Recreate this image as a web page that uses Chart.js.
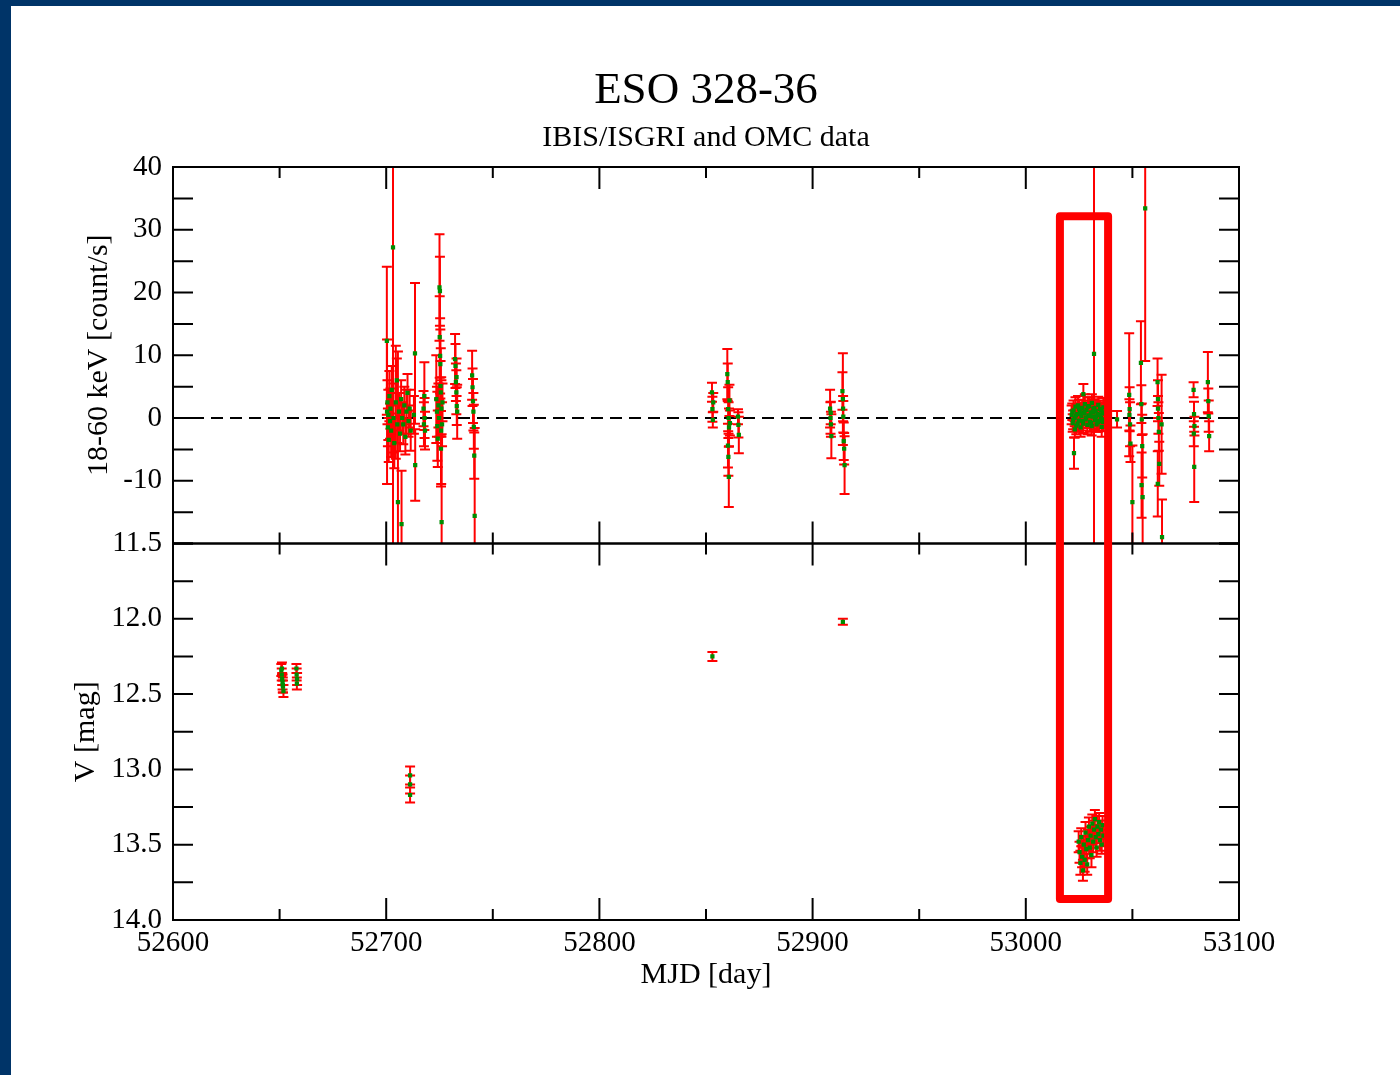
<!DOCTYPE html>
<html>
<head>
<meta charset="utf-8">
<title>ESO 328-36</title>
<script src="https://cdn.jsdelivr.net/npm/chart.js@4.4.1/dist/chart.umd.min.js"></script>
<style>
  html, body { margin: 0; padding: 0; background: #fff; }
  #wrap { position: relative; width: 1400px; height: 1075px; overflow: hidden; }
  .bar-top { position: absolute; left: 0; top: 0; width: 1400px; height: 6px; background: #003468; }
  .bar-left { position: absolute; left: 0; top: 0; width: 11px; height: 1075px; background: #003468; }
  #plot { position: absolute; left: 0; top: 0; }
</style>
</head>
<body>
<div id="wrap">
  <div class="bar-top"></div>
  <div class="bar-left"></div>
  <canvas id="plot" width="1400" height="1075"></canvas>
</div>
<script>
// IBIS/ISGRI 18-60 keV light curve
const isgriMjd = [
  52700.3, 52700.4, 52700.6, 52700.8, 52701.0, 52701.2, 52701.5, 52701.8, 52702.0, 52702.3,
  52702.6, 52703.2, 52703.4, 52703.8, 52704.5, 52705.0, 52705.2, 52705.5, 52707.2, 52706.0,
  52706.5, 52707.0, 52707.5, 52708.0, 52708.5, 52709.0, 52709.5, 52710.0, 52710.5, 52711.0,
  52711.5, 52713.5, 52713.6, 52713.0, 52717.5, 52717.7, 52717.9, 52718.0, 52718.2,
  52723.5, 52723.8, 52724.0, 52724.2, 52724.5, 52724.8, 52725.0, 52725.2, 52725.1, 52725.3,
  52725.4, 52725.5, 52725.6, 52725.7, 52725.8, 52726.0, 52725.9, 52726.2, 52726.4,
  52732.3, 52732.5, 52732.7, 52732.9, 52733.1, 52733.3, 52733.0,
  52740.3, 52740.5, 52740.7, 52740.9, 52741.1, 52741.3, 52741.5,
  52852.8, 52853.0, 52853.2, 52853.4,
  52860.0, 52860.2, 52860.4, 52860.6, 52860.8, 52861.0, 52860.3, 52860.5, 52860.7, 52861.2,
  52865.0, 52865.2, 52865.4,
  52908.2, 52908.4, 52908.6, 52908.8, 52908.5,
  52914.0, 52914.2, 52914.4, 52914.6, 52914.8, 52915.0, 52914.3,
  53022.6, 53027.0, 53032.0,
  53021.5, 53022.0, 53022.4, 53022.9, 53023.3, 53023.7, 53024.1, 53024.5, 53024.9, 53025.3,
  53025.7, 53026.1, 53026.5, 53026.9, 53027.3, 53027.7, 53028.1, 53028.5, 53028.9, 53029.3,
  53029.7, 53030.1, 53030.5, 53030.9, 53031.3, 53031.7, 53032.4, 53032.8, 53033.2, 53033.6,
  53034.0, 53034.4, 53034.8, 53035.2, 53035.6, 53036.0, 53036.4, 53036.8, 53023.0, 53031.0,
  53021.8, 53022.2, 53023.5, 53024.3, 53025.0, 53025.9, 53026.7, 53027.5, 53028.3, 53029.1,
  53029.9, 53030.7, 53031.5, 53032.2, 53033.0, 53033.8, 53034.6, 53035.4, 53036.2, 53036.6,
  53042.8,
  53048.5, 53048.7, 53048.9, 53049.1, 53048.6, 53050.0,
  53054.0, 53054.2, 53054.4, 53054.6, 53054.3, 53054.8, 53056.0,
  53061.8, 53062.0, 53062.2, 53062.4, 53062.6, 53062.0, 53061.9, 53063.7, 53063.9,
  53078.7, 53078.9, 53079.1, 53078.8, 53079.0,
  53085.4, 53085.6, 53085.8, 53086.0
];
const isgriRate = [
  12.3, 1.0, 2.5, -1.5, 0.5, -3.5, 3.5, -0.5, 1.5, -2.0,
  4.5, 27.2, 0.0, -4.0, 2.5, 6.0, -1.0, -13.4, -16.9, 1.0,
  -2.5, 3.0, 0.0, -1.0, 2.0, -3.0, 1.0, 4.0, -0.5, 1.5,
  -2.0, 10.3, -7.5, 0.5, 1.5, -1.0, 3.5, 0.0, -2.0,
  3.0, 1.0, -1.3, -3.3, 2.0, 0.0, 20.8, 20.2, 12.9, 9.9,
  8.6, 5.1, 4.1, -4.9, -2.0, -16.6, 1.5, -1.0, 2.5,
  9.4, 8.3, 5.7, 4.1, 1.9, 1.0, 6.5,
  6.8, 4.9, 2.7, 1.0, -1.4, -6.0, -15.6,
  4.1, 1.4, -0.3, 2.5,
  7.0, 5.7, 1.4, 0.0, -1.5, 2.8, -4.4, -6.2, -9.4, -0.8,
  0.2, -1.1, -2.7,
  1.5, 0.0, -1.0, -2.9, 0.8,
  4.3, 3.0, 0.2, -3.7, -4.9, -7.5, 1.5,
  -5.6, 3.8, 10.2,
  0.5, -0.8, 1.2, 0.0, 1.8, -1.2, 0.6, 2.0, -0.4, 1.0,
  -1.5, 0.3, 1.6, -0.9, 0.8, 2.2, -0.2, 1.3, -1.1, 0.4,
  1.9, -0.6, 0.9, -1.3, 0.2, 1.5, -0.3, 1.1, -1.0, 0.6,
  2.1, -0.5, 1.4, 0.0, -1.4, 0.7, 1.7, -0.2, -1.8, 2.4,
  1.0, -0.3, 0.4, -0.9, 1.5, 0.7, -0.5, 1.0, 0.1, 1.8,
  0.3, -0.8, 0.9, 1.6, 0.2, -0.7, 0.5, 1.2, -0.6, 0.9,
  -0.2,
  3.7, 1.4, -1.0, -4.1, 0.5, -13.4,
  8.8, 2.2, -0.2, -4.5, -10.7, -12.6, 33.4,
  5.7, 3.0, 0.0, -2.2, -7.3, 1.5, -10.5, -1.0, -19.0,
  4.5, 0.6, -1.3, -2.5, -7.8,
  5.7, 2.7, 0.3, -2.9
];
const isgriErr = [
  11.8, 11.5, 3.5, 3.0, 4.0, 3.5, 4.0, 2.8, 3.2, 4.2,
  3.8, 50.0, 5.5, 4.0, 9.0, 3.5, 3.0, 24.0, 8.5, 3.0,
  2.8, 3.0, 2.5, 3.2, 3.0, 2.8, 3.5, 3.0, 2.5, 3.0,
  3.2, 11.2, 5.7, 3.0, 2.8, 3.5, 5.4, 3.2, 3.0,
  7.0, 4.0, 5.5, 4.5, 3.5, 3.0, 8.5, 5.5, 6.5, 6.0,
  5.5, 4.0, 7.0, 6.0, 8.5, 14.0, 4.5, 3.5, 3.0,
  4.0, 3.5, 3.0, 3.5, 3.0, 4.3, 3.0,
  3.9, 3.0, 3.5, 3.0, 3.5, 3.7, 14.0,
  1.5, 2.0, 1.2, 1.5,
  4.0, 3.0, 3.5, 2.5, 3.0, 2.5, 3.5, 3.0, 4.8, 2.0,
  1.2, 2.0, 2.9,
  3.0, 2.5, 2.0, 3.5, 1.8,
  3.0, 7.3, 2.5, 3.0, 2.5, 4.6, 2.0,
  2.5, 1.6, 45.0,
  1.5, 1.4, 1.6, 1.3, 1.5, 1.4, 1.2, 1.5, 1.6, 1.3,
  1.5, 1.4, 1.2, 1.5, 1.3, 1.6, 1.4, 1.2, 1.5, 1.3,
  1.4, 1.6, 1.2, 1.5, 1.4, 1.3, 1.5, 1.4, 1.2, 1.6,
  1.3, 1.5, 1.4, 1.2, 1.6, 1.3, 1.5, 1.4, 1.3, 1.4,
  1.3, 1.5, 1.4, 1.3, 1.4, 1.2, 1.5, 1.4, 1.3, 1.5,
  1.4, 1.3, 1.5, 1.4, 1.3, 1.5, 1.4, 1.3, 1.5, 1.4,
  1.3,
  9.8, 3.5, 3.5, 2.9, 2.5, 9.0,
  6.6, 3.0, 2.5, 5.0, 5.2, 10.0, 24.3,
  3.8, 3.0, 2.5, 3.0, 3.5, 2.0, 5.2, 7.9, 6.0,
  1.2, 2.0, 1.5, 2.0, 5.6,
  4.8, 2.0, 2.5, 2.4
];

// OMC V-band magnitudes
const omcMjd = [
  52650.8, 52651.0, 52651.2, 52651.4, 52651.6, 52651.8, 52651.1, 52651.5,
  52657.9, 52658.0, 52658.2, 52658.1,
  52711.2, 52711.2, 52711.2,
  52853.0, 52914.2,
  53024.8, 53025.2, 53025.6, 53026.0, 53026.4, 53026.8, 53027.2, 53027.6, 53028.0, 53028.4,
  53028.8, 53029.2, 53029.6, 53030.0, 53030.4, 53030.8, 53031.2, 53031.6, 53032.0, 53032.4,
  53032.8, 53033.2, 53033.6, 53034.0, 53034.4, 53034.8, 53035.2, 53035.6, 53036.0, 53036.4
];
const omcMag = [
  12.34, 12.37, 12.40, 12.42, 12.45, 12.48, 12.33, 12.44,
  12.33, 12.37, 12.40, 12.43,
  13.04, 13.10, 13.17,
  12.25, 12.02,
  13.48, 13.55, 13.62, 13.45, 13.58, 13.67, 13.50, 13.60, 13.42, 13.53,
  13.63, 13.47, 13.38, 13.52, 13.44, 13.57, 13.36, 13.48, 13.40, 13.33,
  13.45, 13.52, 13.38, 13.43, 13.35, 13.47, 13.40, 13.50, 13.37, 13.44
];
const omcErr = [
  0.04, 0.04, 0.04, 0.05, 0.04, 0.04, 0.04, 0.05,
  0.03, 0.04, 0.04, 0.04,
  0.06, 0.06, 0.05,
  0.03, 0.02,
  0.07, 0.07, 0.08, 0.06, 0.07, 0.07, 0.06, 0.08, 0.07, 0.06,
  0.07, 0.07, 0.06, 0.07, 0.06, 0.08, 0.06, 0.07, 0.06, 0.06,
  0.07, 0.06, 0.07, 0.06, 0.06, 0.07, 0.06, 0.06, 0.06, 0.07
];

// marked interval (MJD range, top in count/s, bottom in mag)
const markMjd = [53016.0, 53038.6];
const markTop = 32.15;
const markBottom = 13.86;

const SERIF = "'Liberation Serif', 'Times New Roman', serif";

// error bars drawn just before the points of each dataset
const errorBars = {
  id: 'errorBars',
  beforeDatasetDraw(chart, args) {
    const ds = chart.data.datasets[args.index];
    if (!ds.errors) return;
    const meta = args.meta;
    const ys = chart.scales[meta.yAxisID];
    const xs = chart.scales.x;
    const ctx = chart.ctx;
    ctx.save();
    ctx.beginPath();
    ctx.rect(xs.left, ys.top, xs.right - xs.left, ys.bottom - ys.top);
    ctx.clip();
    ctx.strokeStyle = '#ff0000';
    ctx.lineWidth = 2;
    meta.data.forEach((pt, i) => {
      const v = ds.data[i].y, e = ds.errors[i];
      const hi = ys.getPixelForValue(v + e);
      const lo = ys.getPixelForValue(v - e);
      ctx.beginPath();
      ctx.moveTo(pt.x, hi);
      ctx.lineTo(pt.x, lo);
      ctx.moveTo(pt.x - 5, hi);
      ctx.lineTo(pt.x + 5, hi);
      ctx.moveTo(pt.x - 5, lo);
      ctx.lineTo(pt.x + 5, lo);
      ctx.stroke();
    });
    ctx.restore();
  }
};

// panel frames with inward ticks on all sides
const panelFrames = {
  id: 'panelFrames',
  afterDraw(chart) {
    const ctx = chart.ctx;
    const xs = chart.scales.x;
    ctx.save();
    ctx.strokeStyle = '#000';
    ctx.lineWidth = 2;
    const xMajor = xs.ticks.map(t => t.value);
    const xMinor = [];
    for (let i = 0; i < xMajor.length - 1; i++) xMinor.push((xMajor[i] + xMajor[i + 1]) / 2);
    ['yTop', 'yBot'].forEach(id => {
      const ys = chart.scales[id];
      ctx.strokeRect(xs.left, ys.top, xs.right - xs.left, ys.bottom - ys.top);
      ctx.beginPath();
      xMajor.concat(xMinor).forEach((v, k) => {
        const len = k < xMajor.length ? 22 : 11;
        const px = xs.getPixelForValue(v);
        ctx.moveTo(px, ys.top);
        ctx.lineTo(px, ys.top + len);
        ctx.moveTo(px, ys.bottom);
        ctx.lineTo(px, ys.bottom - len);
      });
      const yMajor = ys.ticks.map(t => t.value);
      const yAll = yMajor.slice();
      for (let i = 0; i < yMajor.length - 1; i++) yAll.push((yMajor[i] + yMajor[i + 1]) / 2);
      yAll.forEach(v => {
        const py = ys.getPixelForValue(v);
        ctx.moveTo(xs.left, py);
        ctx.lineTo(xs.left + 20, py);
        ctx.moveTo(xs.right, py);
        ctx.lineTo(xs.right - 20, py);
      });
      ctx.stroke();
    });
    ctx.restore();

    // highlighted interval
    const yt = chart.scales.yTop, yb = chart.scales.yBot;
    const x0 = xs.getPixelForValue(markMjd[0]);
    const x1 = xs.getPixelForValue(markMjd[1]);
    const y0 = yt.getPixelForValue(markTop);
    const y1 = yb.getPixelForValue(markBottom);
    ctx.save();
    ctx.strokeStyle = '#ff0000';
    ctx.lineWidth = 8;
    ctx.lineJoin = 'round';
    ctx.strokeRect(x0, y0, x1 - x0, y1 - y0);
    ctx.restore();
  }
};

const tickFont = { family: SERIF, size: 29 };
const titleFont = { family: SERIF, size: 30 };

new Chart(document.getElementById('plot'), {
  type: 'scatter',
  data: {
    datasets: [
      {
        label: 'ISGRI',
        data: isgriMjd.map((x, i) => ({ x: x, y: isgriRate[i] })),
        errors: isgriErr,
        yAxisID: 'yTop',
        pointStyle: 'rect',
        pointRadius: 3,
        pointBorderWidth: 0,
        backgroundColor: '#008c00',
        borderColor: '#008c00',
        order: 1
      },
      {
        label: 'OMC',
        data: omcMjd.map((x, i) => ({ x: x, y: omcMag[i] })),
        errors: omcErr,
        yAxisID: 'yBot',
        pointStyle: 'rect',
        pointRadius: 3,
        pointBorderWidth: 0,
        backgroundColor: '#008c00',
        borderColor: '#008c00',
        order: 1
      },
      {
        label: 'zero',
        type: 'line',
        data: [{ x: 52600, y: 0 }, { x: 53100, y: 0 }],
        yAxisID: 'yTop',
        borderColor: '#000',
        borderWidth: 2,
        borderDash: [12, 7],
        pointRadius: 0,
        fill: false,
        order: 2
      }
    ]
  },
  options: {
    responsive: false,
    animation: false,
    events: [],
    layout: { padding: { left: 0, right: 161, top: 0, bottom: 0 } },
    plugins: {
      legend: { display: false },
      tooltip: { enabled: false },
      title: {
        display: true,
        fullSize: false,
        text: 'ESO 328-36',
        color: '#000',
        font: { family: SERIF, size: 45, weight: 'normal' },
        padding: { top: 64, bottom: 0 }
      },
      subtitle: {
        display: true,
        fullSize: false,
        text: 'IBIS/ISGRI and OMC data',
        color: '#000',
        font: { family: SERIF, size: 30, weight: 'normal' },
        padding: { top: 2, bottom: 11 }
      }
    },
    scales: {
      x: {
        type: 'linear',
        position: 'bottom',
        min: 52600,
        max: 53100,
        grid: { display: false, drawTicks: false },
        border: { display: false },
        ticks: {
          stepSize: 100,
          color: '#000',
          font: tickFont,
          padding: 6,
          maxRotation: 0,
          autoSkip: false,
          callback: v => String(v)
        },
        title: { display: true, text: 'MJD [day]', color: '#000', font: titleFont, padding: { top: 0, bottom: 82 } },
        afterFit: s => { s.height = 155; }
      },
      yTop: {
        type: 'linear',
        position: 'left',
        stack: 'panels',
        stackWeight: 1,
        weight: 2,
        min: -20,
        max: 40,
        grid: { display: false, drawTicks: false },
        border: { display: false },
        ticks: {
          stepSize: 10,
          color: '#000',
          font: tickFont,
          padding: 11,
          autoSkip: false,
          callback: v => (v === -20 ? '' : String(v))
        },
        title: { display: true, text: '18-60 keV [count/s]', color: '#000', font: titleFont, padding: { top: 81, bottom: 0 } },
        afterFit: s => { s.width = 173; }
      },
      yBot: {
        type: 'linear',
        position: 'left',
        stack: 'panels',
        stackWeight: 1,
        weight: 1,
        reverse: true,
        min: 11.5,
        max: 14,
        grid: { display: false, drawTicks: false },
        border: { display: false },
        ticks: {
          stepSize: 0.5,
          color: '#000',
          font: tickFont,
          padding: 11,
          autoSkip: false,
          callback: v => v.toFixed(1)
        },
        title: { display: true, text: 'V [mag]', color: '#000', font: titleFont, padding: { top: 68, bottom: 0 } },
        afterFit: s => { s.width = 173; }
      }
    }
  },
  plugins: [errorBars, panelFrames]
});
</script>
</body>
</html>
